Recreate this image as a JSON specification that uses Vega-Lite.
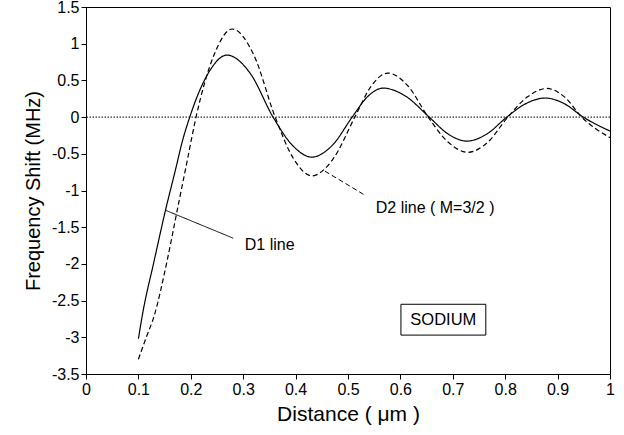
{
  "$schema": "https://vega.github.io/schema/vega-lite/v6.json",
  "width": 524,
  "height": 367,
  "autosize": {"type": "none"},
  "padding": {"left": 86, "top": 7, "right": 14, "bottom": 61},
  "background": "white",
  "config": {
    "font": "Liberation Sans",
    "view": {"stroke": "black", "strokeWidth": 1},
    "axis": {
      "grid": false,
      "domainColor": "black",
      "tickColor": "black",
      "tickSize": 5,
      "labelColor": "black",
      "titleColor": "black",
      "labelFont": "Liberation Sans",
      "titleFont": "Liberation Sans",
      "labelFontSize": 16,
      "titleFontSize": 20,
      "titleFontWeight": "normal",
      "labelOverlap": false,
      "labelFlush": false,
      "labelBound": false,
      "labelSeparation": 0
    }
  },
  "layer": [
    {
      "data": {"values": [
        {"s": "D1", "x": 0.1, "y": -3.02},
        {"s": "D1", "x": 0.108, "y": -2.68},
        {"s": "D1", "x": 0.13, "y": -1.96},
        {"s": "D1", "x": 0.152, "y": -1.26},
        {"s": "D1", "x": 0.17, "y": -0.74},
        {"s": "D1", "x": 0.185, "y": -0.3},
        {"s": "D1", "x": 0.198, "y": 0},
        {"s": "D1", "x": 0.215, "y": 0.33},
        {"s": "D1", "x": 0.2335, "y": 0.6},
        {"s": "D1", "x": 0.269, "y": 0.845},
        {"s": "D1", "x": 0.313, "y": 0.6},
        {"s": "D1", "x": 0.357, "y": 0},
        {"s": "D1", "x": 0.394, "y": -0.385},
        {"s": "D1", "x": 0.431, "y": -0.545},
        {"s": "D1", "x": 0.47, "y": -0.385},
        {"s": "D1", "x": 0.508, "y": 0},
        {"s": "D1", "x": 0.5375, "y": 0.28},
        {"s": "D1", "x": 0.567, "y": 0.395},
        {"s": "D1", "x": 0.611, "y": 0.28},
        {"s": "D1", "x": 0.655, "y": 0},
        {"s": "D1", "x": 0.691, "y": -0.23},
        {"s": "D1", "x": 0.727, "y": -0.327},
        {"s": "D1", "x": 0.765, "y": -0.23},
        {"s": "D1", "x": 0.803, "y": 0},
        {"s": "D1", "x": 0.8395, "y": 0.184},
        {"s": "D1", "x": 0.876, "y": 0.26},
        {"s": "D1", "x": 0.9125, "y": 0.184},
        {"s": "D1", "x": 0.949, "y": 0},
        {"s": "D1", "x": 1.0, "y": -0.19},
        {"s": "D2", "x": 0.1, "y": -3.3},
        {"s": "D2", "x": 0.115, "y": -3.0},
        {"s": "D2", "x": 0.13, "y": -2.71},
        {"s": "D2", "x": 0.155, "y": -1.95},
        {"s": "D2", "x": 0.176, "y": -1.2},
        {"s": "D2", "x": 0.193, "y": -0.6},
        {"s": "D2", "x": 0.21, "y": 0},
        {"s": "D2", "x": 0.2445, "y": 0.85},
        {"s": "D2", "x": 0.279, "y": 1.2},
        {"s": "D2", "x": 0.32, "y": 0.85},
        {"s": "D2", "x": 0.361, "y": 0},
        {"s": "D2", "x": 0.396, "y": -0.566},
        {"s": "D2", "x": 0.431, "y": -0.8},
        {"s": "D2", "x": 0.472, "y": -0.566},
        {"s": "D2", "x": 0.513, "y": 0},
        {"s": "D2", "x": 0.5445, "y": 0.424},
        {"s": "D2", "x": 0.576, "y": 0.6},
        {"s": "D2", "x": 0.6145, "y": 0.424},
        {"s": "D2", "x": 0.653, "y": 0},
        {"s": "D2", "x": 0.691, "y": -0.34},
        {"s": "D2", "x": 0.729, "y": -0.48},
        {"s": "D2", "x": 0.767, "y": -0.34},
        {"s": "D2", "x": 0.805, "y": 0},
        {"s": "D2", "x": 0.8425, "y": 0.276},
        {"s": "D2", "x": 0.88, "y": 0.39},
        {"s": "D2", "x": 0.913, "y": 0.276},
        {"s": "D2", "x": 0.946, "y": 0},
        {"s": "D2", "x": 1.0, "y": -0.28}
      ]},
      "mark": {"type": "line", "interpolate": "monotone", "color": "black", "strokeWidth": 1.2},
      "encoding": {
        "x": {
          "field": "x", "type": "quantitative",
          "scale": {"domain": [0, 1], "nice": false},
          "axis": {"title": "Distance ( μm )", "titleFontSize": 21, "values": [0, 0.1, 0.2, 0.3, 0.4, 0.5, 0.6, 0.7, 0.8, 0.9, 1], "labelExpr": "'' + datum.value", "titlePadding": 6, "labelOverlap": false, "labelFlush": false}
        },
        "y": {
          "field": "y", "type": "quantitative",
          "scale": {"domain": [-3.5, 1.5], "nice": false},
          "axis": {"title": "Frequency Shift (MHz)", "tickCount": 10, "labelExpr": "replace(format(datum.value, '~g'), '\u2212', '-')", "titlePadding": 8, "labelOverlap": false, "labelFlush": false, "labelBound": false, "labelSeparation": 0}
        },
        "detail": {"field": "s"},
        "strokeDash": {
          "field": "s", "type": "nominal",
          "scale": {"domain": ["D1", "D2"], "range": [[1, 0], [5, 3]]},
          "legend": null
        }
      }
    },
    {
      "data": {"values": [{"y": 0}]},
      "mark": {"type": "rule", "color": "black", "strokeWidth": 1, "strokeDash": [1.5, 1.5]},
      "encoding": {
        "y": {"field": "y", "type": "quantitative"}
      }
    },
    {
      "data": {"values": [
        {"x": 0.152, "y": -1.27, "x2": 0.281, "y2": -1.65, "s": "D1"},
        {"x": 0.456, "y": -0.736, "x2": 0.532, "y2": -1.063, "s": "D2"}
      ]},
      "mark": {"type": "rule", "color": "black", "strokeWidth": 1},
      "encoding": {
        "x": {"field": "x", "type": "quantitative"},
        "y": {"field": "y", "type": "quantitative"},
        "x2": {"field": "x2"},
        "y2": {"field": "y2"},
        "strokeDash": {
          "field": "s", "type": "nominal",
          "scale": {"domain": ["D1", "D2"], "range": [[1, 0], [5, 3]]},
          "legend": null
        }
      }
    },
    {
      "data": {"values": [
        {"x": 0.303, "y": -1.74, "t": "D1 line"},
        {"x": 0.553, "y": -1.24, "t": "D2 line ( M=3/2 )"}
      ]},
      "mark": {"type": "text", "align": "left", "baseline": "middle", "fontSize": 16, "font": "Liberation Sans", "color": "black"},
      "encoding": {
        "x": {"field": "x", "type": "quantitative"},
        "y": {"field": "y", "type": "quantitative"},
        "text": {"field": "t"}
      }
    },
    {
      "data": {"values": [{"x": 0.601, "x2": 0.763, "y": -2.55, "y2": -2.97}]},
      "mark": {"type": "rect", "fill": "white", "stroke": "black", "strokeWidth": 1},
      "encoding": {
        "x": {"field": "x", "type": "quantitative"},
        "x2": {"field": "x2"},
        "y": {"field": "y", "type": "quantitative"},
        "y2": {"field": "y2"}
      }
    },
    {
      "data": {"values": [{"x": 0.682, "y": -2.76, "t": "SODIUM"}]},
      "mark": {"type": "text", "align": "center", "baseline": "middle", "fontSize": 16.5, "font": "Liberation Sans", "color": "black"},
      "encoding": {
        "x": {"field": "x", "type": "quantitative"},
        "y": {"field": "y", "type": "quantitative"},
        "text": {"field": "t"}
      }
    }
  ]
}
